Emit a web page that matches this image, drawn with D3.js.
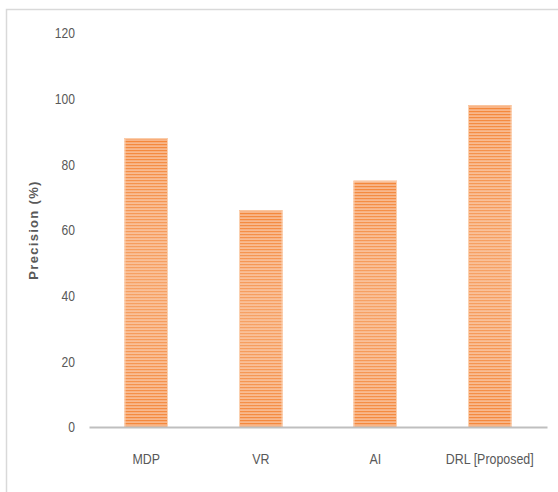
<!DOCTYPE html>
<html>
<head>
<meta charset="utf-8">
<script src="https://cdn.jsdelivr.net/npm/d3@7"></script>
<style>
  html, body { margin: 0; padding: 0; background: #fff; }
  svg { display: block; }
</style>
</head>
<body>
<svg id="chart" width="558" height="492"></svg>
<script>
const categories = ["MDP", "VR", "AI", "DRL [Proposed]"];
const precision = [88, 66, 75, 98];
const yTicks = [0, 20, 40, 60, 80, 100, 120];
const yTitle = "Precision (%)";

const W = 558, H = 492;
const margin = { top: 33, right: 11, bottom: 65, left: 89 };
const svg = d3.select("#chart");
const font = "'Liberation Sans', Arial, sans-serif";

// squeeze label glyphs horizontally for a condensed look
function condense(sel, k) {
  sel.each(function () {
    const len = this.getComputedTextLength();
    d3.select(this).attr("textLength", len * k).attr("lengthAdjust", "spacingAndGlyphs");
  });
}

// outer chart frame (runs off the right and bottom edges)
svg.append("rect")
  .attr("x", 6.5).attr("y", 9.5)
  .attr("width", W + 10).attr("height", H + 10)
  .attr("fill", "#fff").attr("stroke", "#d9d9d9").attr("stroke-width", 1.5);

const defs = svg.append("defs");
// horizontal stripe fill for the bars
const pat = defs.append("pattern")
  .attr("id", "stripes").attr("patternUnits", "userSpaceOnUse")
  .attr("width", 6).attr("height", 3);
pat.append("rect").attr("width", 6).attr("height", 3).attr("fill", "#f8b689");
pat.append("rect").attr("width", 6).attr("height", 1.2).attr("fill", "#f4873a");

// soft highlight across the middle of each bar
const grad = defs.append("linearGradient")
  .attr("id", "glow").attr("x1", 0).attr("y1", 0).attr("x2", 0).attr("y2", 1);
grad.append("stop").attr("offset", "0").attr("stop-color", "#fff").attr("stop-opacity", 0);
grad.append("stop").attr("offset", "0.5").attr("stop-color", "#fbd2b3").attr("stop-opacity", 0.35);
grad.append("stop").attr("offset", "1").attr("stop-color", "#fff").attr("stop-opacity", 0);

const x = d3.scaleBand()
  .domain(categories)
  .range([margin.left, W - margin.right])
  .paddingInner(0.62).paddingOuter(0.31);

const y = d3.scaleLinear()
  .domain([0, 120])
  .range([H - margin.bottom, margin.top]);

// bars
const bars = svg.append("g");
bars.selectAll("rect.bar")
  .data(categories)
  .join("rect")
  .attr("class", "bar")
  .attr("x", d => x(d))
  .attr("y", (d, i) => y(precision[i]))
  .attr("width", x.bandwidth())
  .attr("height", (d, i) => y(0) - y(precision[i]))
  .attr("fill", "url(#stripes)");
bars.selectAll("rect.glow")
  .data(categories)
  .join("rect")
  .attr("class", "glow")
  .attr("x", d => x(d))
  .attr("y", (d, i) => y(precision[i]))
  .attr("width", x.bandwidth())
  .attr("height", (d, i) => y(0) - y(precision[i]))
  .attr("fill", "url(#glow)");
// pale edges at the left and right of each bar
bars.selectAll("rect.edge")
  .data(categories)
  .join("rect")
  .attr("class", "edge")
  .attr("x", d => x(d) + 0.5)
  .attr("y", (d, i) => y(precision[i]) + 0.5)
  .attr("width", x.bandwidth() - 1)
  .attr("height", (d, i) => y(0) - y(precision[i]) - 0.5)
  .attr("fill", "none")
  .attr("stroke", "#fbd0b0").attr("stroke-width", 1);

// y axis labels (no axis line)
const yAxis = svg.append("g")
  .attr("transform", `translate(${margin.left},0)`)
  .call(d3.axisLeft(y).tickValues(yTicks).tickSize(0).tickPadding(14));
yAxis.select(".domain").remove();
yAxis.selectAll("text")
  .attr("font-family", font).attr("font-size", 15.5).attr("fill", "#595959")
  .call(condense, 0.78);

// x axis
const xAxis = svg.append("g")
  .attr("transform", `translate(0,${y(0)})`)
  .call(d3.axisBottom(x).tickSize(0).tickPadding(26));
xAxis.select(".domain")
  .attr("stroke", "#bfbfbf").attr("stroke-width", 2.2);
xAxis.selectAll("text")
  .attr("font-family", font).attr("font-size", 15.5).attr("fill", "#595959")
  .call(condense, 0.8);

// y axis title
svg.append("text")
  .attr("transform", `translate(38,${(y(0) + y(120)) / 2}) rotate(-90)`)
  .attr("text-anchor", "middle")
  .attr("font-family", "'Liberation Sans', 'DejaVu Sans', sans-serif")
  .attr("font-size", 13).attr("font-weight", "bold")
  .attr("letter-spacing", 1.3)
  .attr("fill", "#595959")
  .text(yTitle);
</script>
</body>
</html>
